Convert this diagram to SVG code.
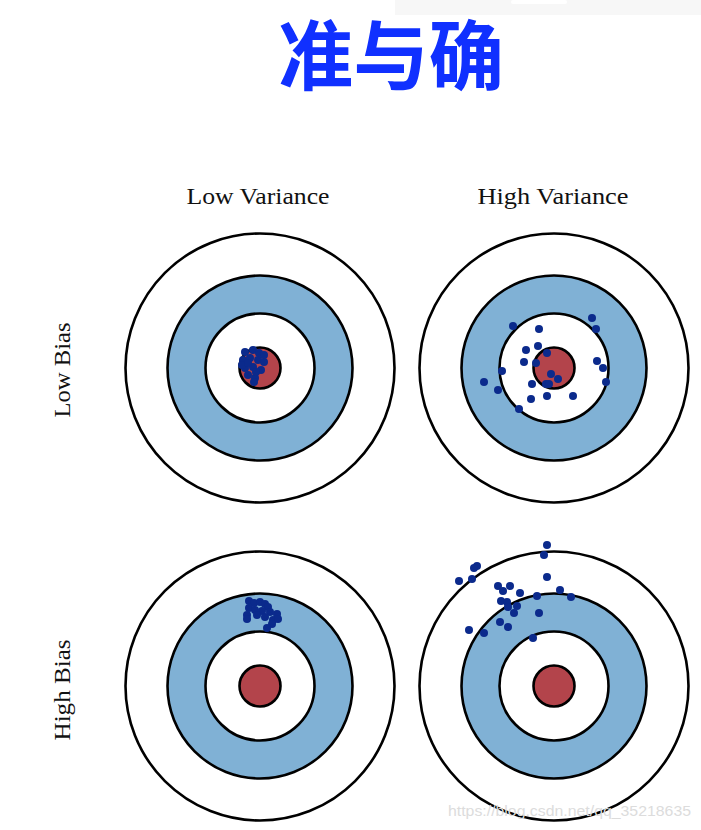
<svg xmlns="http://www.w3.org/2000/svg" width="701" height="830" viewBox="0 0 701 830">
<style>
.ring{stroke:#000;stroke-width:2.6}
.w{fill:#fff}
.b{fill:#80b1d5}
.r{fill:#b3444b}
.dot{fill:#0b2a8c}
.lbl{font-family:"Liberation Serif","DejaVu Serif",serif;font-size:23px;fill:#111}
.title{font-family:"Noto Sans CJK SC","Noto Sans CJK JP",sans-serif;font-weight:bold;font-size:76px;fill:#1030ff}
.wm{font-family:"Liberation Sans",Arial,sans-serif;font-size:15px;fill:#dcdcdc}
</style>
<defs>
<g id="target">
<circle class="ring w" r="134.5"/>
<circle class="ring b" r="92.5"/>
<circle class="ring w" r="54.5"/>
<circle class="ring r" r="20.5"/>
</g>
</defs>
<rect x="0" y="0" width="701" height="830" fill="#fff"/>
<rect x="395" y="0" width="306" height="15" fill="#f7f7f7"/>
<rect x="511" y="0" width="56" height="4" rx="2" fill="#fff"/>
<g id="title"><text class="title" x="391" y="84" text-anchor="middle" textLength="226" lengthAdjust="spacingAndGlyphs">准与确</text></g>
<g id="labels">
<text class="lbl" x="258" y="204" text-anchor="middle" textLength="143" lengthAdjust="spacingAndGlyphs">Low Variance</text>
<text class="lbl" x="553" y="204" text-anchor="middle" textLength="151" lengthAdjust="spacingAndGlyphs">High Variance</text>
<text class="lbl" transform="translate(70,370) rotate(-90)" text-anchor="middle" textLength="95" lengthAdjust="spacingAndGlyphs">Low Bias</text>
<text class="lbl" transform="translate(70,690) rotate(-90)" text-anchor="middle" textLength="101" lengthAdjust="spacingAndGlyphs">High Bias</text>
</g>
<g id="target-lowbias-lowvar">
<use href="#target" x="260" y="368"/>
<g class="dot">
<circle cx="245" cy="352" r="4"/><circle cx="253" cy="350" r="4"/><circle cx="259" cy="353" r="4"/>
<circle cx="243" cy="360" r="4"/><circle cx="250" cy="358" r="4"/><circle cx="258" cy="360" r="4"/>
<circle cx="264" cy="362" r="4"/><circle cx="245" cy="368" r="4"/><circle cx="253" cy="367" r="4"/>
<circle cx="261" cy="370" r="4"/><circle cx="248" cy="375" r="4"/><circle cx="255" cy="378" r="4"/>
<circle cx="254" cy="382" r="4"/><circle cx="242" cy="365" r="4"/><circle cx="264" cy="355" r="4"/>
<circle cx="248" cy="363" r="4"/><circle cx="256" cy="372" r="4"/>
</g>
</g>
<g id="target-lowbias-highvar">
<use href="#target" x="554" y="368"/>
<g class="dot">
<circle cx="513" cy="326" r="4"/><circle cx="539" cy="329" r="4"/><circle cx="592" cy="318" r="4"/>
<circle cx="596" cy="329" r="4"/><circle cx="526" cy="350" r="4"/><circle cx="538" cy="346" r="4"/>
<circle cx="547" cy="353" r="4"/><circle cx="524" cy="362" r="4"/><circle cx="536" cy="363" r="4"/>
<circle cx="597" cy="361" r="4"/><circle cx="603" cy="368" r="4"/><circle cx="502" cy="371" r="4"/>
<circle cx="551" cy="374" r="4"/><circle cx="558" cy="379" r="4"/><circle cx="484" cy="382" r="4"/>
<circle cx="532" cy="384" r="4"/><circle cx="546" cy="384" r="4"/><circle cx="549" cy="384" r="4"/>
<circle cx="606" cy="382" r="4"/><circle cx="498" cy="390" r="4"/><circle cx="531" cy="399" r="4"/>
<circle cx="547" cy="396" r="4"/><circle cx="573" cy="396" r="4"/><circle cx="519" cy="409" r="4"/>
</g>
</g>
<g id="target-highbias-lowvar">
<use href="#target" x="260" y="686"/>
<g class="dot">
<circle cx="249" cy="601" r="4"/><circle cx="254" cy="603" r="4"/><circle cx="260" cy="602" r="4"/>
<circle cx="265" cy="604" r="4"/><circle cx="268" cy="607" r="4"/><circle cx="249" cy="608" r="4"/>
<circle cx="255" cy="610" r="4"/><circle cx="262" cy="611" r="4"/><circle cx="270" cy="612" r="4"/>
<circle cx="277" cy="614" r="4"/><circle cx="247" cy="615" r="4"/><circle cx="257" cy="615" r="4"/>
<circle cx="265" cy="617" r="4"/><circle cx="273" cy="620" r="4"/><circle cx="278" cy="619" r="4"/>
<circle cx="272" cy="624" r="4"/><circle cx="267" cy="628" r="4"/><circle cx="247" cy="619" r="4"/>
</g>
</g>
<g id="target-highbias-highvar">
<use href="#target" x="554" y="686"/>
<g class="dot">
<circle cx="547" cy="545" r="4"/><circle cx="544" cy="555" r="4"/><circle cx="477" cy="566" r="4"/>
<circle cx="474" cy="568" r="4"/><circle cx="459" cy="581" r="4"/><circle cx="472" cy="579" r="4"/>
<circle cx="547" cy="577" r="4"/><circle cx="498" cy="586" r="4"/><circle cx="510" cy="586" r="4"/>
<circle cx="503" cy="591" r="4"/><circle cx="520" cy="593" r="4"/><circle cx="560" cy="590" r="4"/>
<circle cx="571" cy="597" r="4"/><circle cx="537" cy="596" r="4"/><circle cx="501" cy="601" r="4"/>
<circle cx="507" cy="602" r="4"/><circle cx="517" cy="606" r="4"/><circle cx="508" cy="607" r="4"/>
<circle cx="514" cy="613" r="4"/><circle cx="539" cy="613" r="4"/><circle cx="469" cy="630" r="4"/>
<circle cx="484" cy="633" r="4"/><circle cx="500" cy="622" r="4"/><circle cx="508" cy="627" r="4"/>
<circle cx="533" cy="638" r="4"/>
</g>
</g>
<g id="connectors"/>
<text class="wm" x="448" y="816" textLength="243" lengthAdjust="spacingAndGlyphs">https://blog.csdn.net/qq_35218635</text>
</svg>
